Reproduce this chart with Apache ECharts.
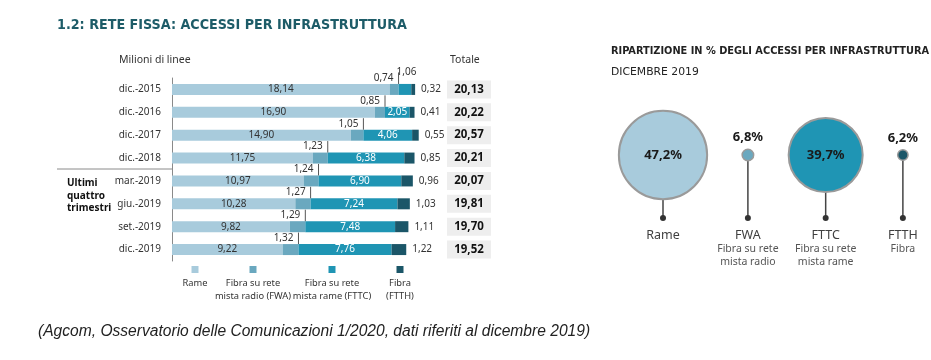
<!DOCTYPE html>
<html>
<head>
<meta charset="utf-8">
<script src="https://cdn.jsdelivr.net/npm/echarts@6/dist/echarts.min.js"></script>
<style>html,body{margin:0;padding:0;background:#fff;}#c{width:931px;height:360px;}</style>
</head>
<body>
<div id="c"></div>
<script>
// ---- data ----
const categories = ['dic.-2015','dic.-2016','dic.-2017','dic.-2018','mar.-2019','giu.-2019','set.-2019','dic.-2019'];
const rame = [18.14, 16.90, 14.90, 11.75, 10.97, 10.28, 9.82, 9.22];
const fwa  = [0.74, 0.85, 1.05, 1.23, 1.24, 1.27, 1.29, 1.32];
const fttc = [1.06, 2.05, 4.06, 6.38, 6.90, 7.24, 7.48, 7.76];
const ftth = [0.32, 0.41, 0.55, 0.85, 0.96, 1.03, 1.11, 1.22];
const totals = [20.13, 20.22, 20.57, 20.21, 20.07, 19.81, 19.70, 19.52];
const seriesNames = ['Rame', 'Fibra su rete\nmista radio (FWA)', 'Fibra su rete\nmista rame (FTTC)', 'Fibra\n(FTTH)'];
const shareNames = ['Rame', 'FWA', 'FTTC', 'FTTH'];
const shareSub = ['', 'Fibra su rete\nmista radio', 'Fibra su rete\nmista rame', 'Fibra'];
const shareValues = [47.2, 6.8, 39.7, 6.2];

// ---- style ----
const colors = ['#a8cbdc', '#6aa8bf', '#1f95b4', '#1b5668'];
const FONT = "'Noto Sans', 'Open Sans', sans-serif";
const NARROW = "'DejaVu Sans Condensed', 'DejaVu Sans', sans-serif";
const fmt = (v, d) => v.toFixed(d).replace('.', ',');

const chart = echarts.init(document.getElementById('c'), null, {renderer: 'canvas'});

const PXU = 12; // px per unit
const gridW = 275;

function bubbleD(v) { return 1.9 * v - 1.4; }
// bubble layout: centers packed with a constant gap, derived from values
const gap = 35;
const bubbleX = [];
(function () {
  let x = 0;
  shareValues.forEach((v, i) => {
    if (i > 0) x += bubbleD(shareValues[i - 1]) / 2 + gap + bubbleD(v) / 2;
    bubbleX.push(x);
  });
})();

const tickData = rame.map((r, i) => [r + fwa[i], i]);

const option = {
  animation: false,
  textStyle: {fontFamily: FONT},
  grid: [
    {left: 172, top: 78, width: gridW, height: 183, containLabel: false},
    {left: 600, top: 60, width: 320, height: 190, containLabel: false}
  ],
  xAxis: [
    {type: 'value', gridIndex: 0, min: 0, max: gridW / PXU, show: false},
    {type: 'value', gridIndex: 1, min: -63, max: 257, show: false}
  ],
  yAxis: [
    {
      type: 'category', gridIndex: 0, inverse: true, data: categories,
      axisLine: {show: true, lineStyle: {color: '#8a8a8a', width: 1}},
      axisTick: {show: false},
      axisLabel: {color: '#333', fontSize: 10, margin: 11, fontFamily: FONT}
    },
    {
      type: 'category', gridIndex: 0, inverse: true, position: 'right',
      data: totals.map(v => fmt(v, 2)),
      axisLine: {show: false}, axisTick: {show: false},
      axisLabel: {
        margin: 0, align: 'left',
        formatter: v => '{b|' + v + '}',
        rich: {b: {backgroundColor: '#eeeeee', width: 44, height: 18, lineHeight: 18, align: 'center',
          fontWeight: 'bold', fontSize: 11.5, color: '#111', fontFamily: FONT}}
      }
    },
    {type: 'category', gridIndex: 1, data: [''], show: false}
  ],
  series: [
    {
      name: 'Rame', type: 'bar', stack: 'tot', barWidth: 11, xAxisIndex: 0, yAxisIndex: 0,
      itemStyle: {color: colors[0]}, data: rame,
      label: {show: true, position: 'inside', color: '#333', fontSize: 10, fontFamily: FONT,
        formatter: p => fmt(p.value, 2)}
    },
    {
      name: 'FWA', type: 'bar', stack: 'tot', barWidth: 11, xAxisIndex: 0, yAxisIndex: 0,
      itemStyle: {color: colors[1]}, data: fwa,
      label: {show: true, position: ['100%', -1], align: 'right', verticalAlign: 'bottom',
        padding: [0, 5, 0, 0], color: '#333', fontSize: 10, fontFamily: FONT,
        formatter: p => fmt(p.value, 2)}
    },
    {
      name: 'FTTC', type: 'bar', stack: 'tot', barWidth: 11, xAxisIndex: 0, yAxisIndex: 0,
      itemStyle: {color: colors[2]},
      data: fttc.map(v => v < 1.5 ? {value: v, label: {position: [-2, -7], align: 'left', verticalAlign: 'bottom', color: '#333'}} : v),
      label: {show: true, position: 'inside', color: '#fff', fontSize: 10, fontFamily: FONT,
        formatter: p => fmt(p.value, 2)}
    },
    {
      name: 'FTTH', type: 'bar', stack: 'tot', barWidth: 11, xAxisIndex: 0, yAxisIndex: 0,
      itemStyle: {color: colors[3]}, data: ftth,
      label: {show: true, position: 'right', distance: 6, color: '#333', fontSize: 10, fontFamily: FONT,
        formatter: p => fmt(p.value, 2)}
    },
    {
      type: 'custom', xAxisIndex: 0, yAxisIndex: 0, data: tickData, silent: true, z: 5,
      renderItem: function (params, api) {
        const p = api.coord([api.value(0), api.value(1)]);
        return {type: 'line', shape: {x1: p[0], y1: p[1] - 5.5, x2: p[0], y2: p[1] - 17},
          style: {stroke: '#555', lineWidth: 1}};
      }
    },
    {
      type: 'custom', xAxisIndex: 1, yAxisIndex: 2, silent: true,
      data: shareValues.map((v, i) => [bubbleX[i], 0, v]),
      renderItem: function (params, api) {
        const i = params.dataIndex;
        const v = api.value(2);
        const c = api.coord([api.value(0), 0]);
        const r = bubbleD(v) / 2;
        const dotY = c[1] + 63;
        const small = r < 15;
        const children = [
          {type: 'line', shape: {x1: c[0], y1: c[1] + r, x2: c[0], y2: dotY}, style: {stroke: '#444', lineWidth: 1.5}},
          {type: 'circle', shape: {cx: c[0], cy: dotY, r: 3}, style: {fill: '#333'}},
          {type: 'circle', shape: {cx: c[0], cy: c[1], r: r}, style: {fill: colors[i], stroke: '#9a9a9a', lineWidth: small ? 1.5 : 2}},
          {type: 'text', style: {text: fmt(v, 1) + '%', x: c[0], y: small ? c[1] - r - 5 : c[1],
            align: 'center', verticalAlign: small ? 'bottom' : 'middle',
            fontSize: 13, fontWeight: 'bold', fontFamily: FONT, fill: '#1a1a1a'}},
          {type: 'text', style: {text: shareNames[i], x: c[0], y: dotY + 17, align: 'center', verticalAlign: 'middle',
            fontSize: 12.5, fontFamily: FONT, fill: '#404040'}}
        ];
        if (shareSub[i]) {
          children.push({type: 'text', style: {text: shareSub[i], x: c[0], y: dotY + 25, align: 'center', verticalAlign: 'top',
            fontSize: 10.5, lineHeight: 13, fontFamily: FONT, fill: '#555'}});
        }
        return {type: 'group', children: children};
      }
    }
  ],
  graphic: [
    {type: 'text', left: 57, top: 18, style: {text: '1.2: RETE FISSA: ACCESSI PER INFRASTRUTTURA',
      fontSize: 14.2, fontWeight: 'bold', fontFamily: NARROW, fill: '#1d5c68'}},
    {type: 'text', left: 119, top: 55, style: {text: 'Milioni di linee', fontSize: 10.5, fontFamily: FONT, fill: '#333'}},
    {type: 'text', left: 450, top: 55, style: {text: 'Totale', fontSize: 10.5, fontFamily: FONT, fill: '#333'}},
    {type: 'line', shape: {x1: 57, y1: 169, x2: 172, y2: 169}, style: {stroke: '#8a8a8a', lineWidth: 1}},
    {type: 'text', left: 67, top: 177, style: {text: 'Ultimi\nquattro\ntrimestri', fontSize: 10, lineHeight: 12.5,
      fontWeight: 'bold', fontFamily: FONT, fill: '#111'}},
    {type: 'text', left: 611, top: 46, style: {text: 'RIPARTIZIONE IN % DEGLI ACCESSI PER INFRASTRUTTURA',
      fontSize: 10.9, fontWeight: 'bold', fontFamily: NARROW, fill: '#222'}},
    {type: 'text', left: 611, top: 67, style: {text: 'DICEMBRE 2019', fontSize: 10.8, fontFamily: "'DejaVu Sans', sans-serif", fill: '#222'}},
    {type: 'text', left: 38, top: 324, style: {text: '(Agcom, Osservatorio delle Comunicazioni 1/2020, dati riferiti al dicembre 2019)',
      fontSize: 15.6, fontStyle: 'italic', fontFamily: "'Liberation Sans', Arial, sans-serif", fill: '#222'}}
  ].concat(seriesNames.map((n, i) => {
    const cx = [195, 253, 332, 400][i];
    return {type: 'group', children: [
      {type: 'rect', shape: {x: cx - 3.5, y: 266, width: 7, height: 7}, style: {fill: colors[i]}},
      {type: 'text', style: {text: n, x: cx, y: 277, align: 'center', verticalAlign: 'top', fontSize: 9.3, lineHeight: 13,
        fontFamily: FONT, fill: '#333'}}
    ]};
  }))
};
chart.setOption(option);
</script>
</body>
</html>
